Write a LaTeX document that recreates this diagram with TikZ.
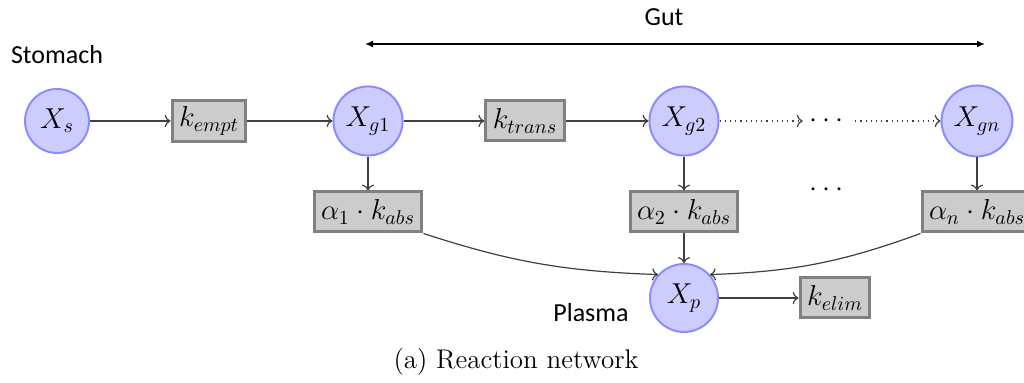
\documentclass[tikz,border=0pt]{standalone}
\usepackage{amsmath}
\usepackage{fontspec}
\newfontfamily\labelfont{Carlito}
\usetikzlibrary{arrows.meta,positioning}
\definecolor{spcfill}{RGB}{204,204,255}
\definecolor{spcdraw}{RGB}{140,140,255}
\definecolor{ratefill}{RGB}{204,204,204}
\definecolor{ratedraw}{RGB}{128,128,128}
\definecolor{linkgray}{RGB}{64,64,64}

\begin{document}
\begin{tikzpicture}[x=0.5pt, y=-0.5pt,
      species/.style={circle, draw=spcdraw, fill=spcfill, line width=1pt, inner sep=3pt, minimum size=32pt, font=\Large},
      rate/.style={rectangle, draw=ratedraw, fill=ratefill, line width=1.5pt, minimum height=20pt, inner xsep=3.5pt, inner ysep=3pt, font=\Large},
      flow/.style={->, draw=linkgray, line width=0.6pt},
      region/.style={font=\labelfont\fontsize{13}{15}\selectfont}
    ]
      \useasboundingbox (0,0) rectangle (1024,383);

      % compartments
      \node[region] (stomach) at (57,55) {Stomach};
      \node[region] (gut) at (664,17) {Gut};
      \node[region] (plasma) at (591,313) {Plasma};
      \coordinate (gutL) at (365,44);
      \coordinate (gutR) at (985,44);
      \draw[{Latex[length=4pt,width=3.5pt]}-{Latex[length=4pt,width=3.5pt]}, line width=0.75pt] (gutL) -- (gutR);

      % species
      \node[species] (xs) at (57,121) {$X_s$};
      \node[species] (xg1) at (368,121) {$X_{g1}$};
      \node[species] (xg2) at (684,121) {$X_{g2}$};
      \node[species] (xgn) at (977,121) {$X_{gn}$};
      \node[species, minimum size=34pt] (xp) at (684,298) {$X_p$};

      % rates
      \node[rate] (kempt) at (209,121) {$k_{empt}$};
      \node[rate] (ktrans) at (525,121) {$k_{trans}$};
      \node[rate] (abs1) at (368,212) {$\alpha_1 \cdot k_{abs}$};
      \node[rate] (abs2) at (684,212) {$\alpha_2 \cdot k_{abs}$};
      \node[rate] (absn) at (977,212) {$\alpha_n \cdot k_{abs}$};
      \node[rate] (kelim) at (835,298) {$k_{elim}$};
      \node[font=\Large] (dotsA) at (829,121) {$\cdots$};
      \node[font=\Large] (dotsB) at (829,190) {$\cdots$};

      \draw[flow] (xs) -- (kempt);
      \draw[flow] (kempt) -- (xg1);
      \draw[flow] (xg1) -- (ktrans);
      \draw[flow] (ktrans) -- (xg2);
      \draw[flow, dotted] (xg2) -- (dotsA);
      \draw[flow, dotted] (dotsA) -- (xgn);
      \draw[flow] (xg1) -- (abs1);
      \draw[flow] (xg2) -- (abs2);
      \draw[flow] (xgn) -- (absn);
      \draw[flow] (abs2) -- (xp);
      \draw[flow] (abs1.south east) to[out=-18, in=178] (xp.138);
      \draw[flow] (absn.south west) to[out=200, in=2] (xp.42);
      \draw[flow] (xp) -- (kelim);

      \node[font=\fontsize{13.5}{16}\selectfont] (caption) at (516,362) {(a) Reaction network};
    \end{tikzpicture}
\end{document}
